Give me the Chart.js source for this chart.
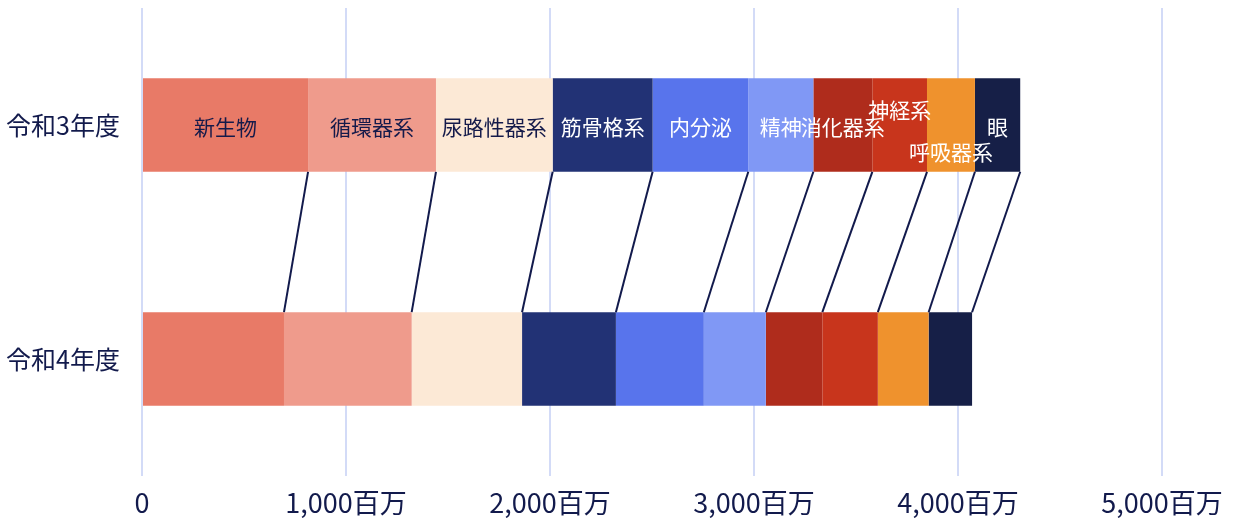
<!DOCTYPE html>
<html lang="ja">
<head>
<meta charset="utf-8">
<script src="https://cdn.jsdelivr.net/npm/chart.js@4/dist/chart.umd.min.js"></script>
<style>
  html, body { margin: 0; padding: 0; background: #ffffff; }
  #wrap { width: 1236px; height: 521px; }
</style>
</head>
<body>
<div id="wrap"><canvas id="c" width="1236" height="521"></canvas></div>
<script>
// ---- data ----
const categories = ['令和3年度', '令和4年度'];
const seriesNames = ['新生物', '循環器系', '尿路性器系', '筋骨格系', '内分泌', '精神', '消化器系', '神経系', '呼吸器系', '眼'];
const valuesR3 = [814, 627, 572, 490, 469, 319, 289, 268, 235, 222];
const valuesR4 = [696, 626, 541, 460, 431, 304, 277, 272, 249, 213];
const tickLabels = ['0', '1,000百万', '2,000百万', '3,000百万', '4,000百万', '5,000百万'];

// ---- styles ----
const colors = ['#E87A67', '#EF9B8C', '#FCE9D6', '#223275', '#5874EC', '#8098F5', '#AF2C1C', '#C8351C', '#EF922D', '#161F47'];
const labelColors = ['#141a4a', '#141a4a', '#141a4a', '#ffffff', '#ffffff', '#ffffff', '#ffffff', '#ffffff', '#ffffff', '#ffffff'];
const labelOffsets = [0, 0, 0, 0, 0, 0, 0, -17, 25, 0];
const FONT = "'Noto Sans CJK JP', 'Noto Sans', sans-serif";
const NAVY = '#121a4c';

const datasets = seriesNames.map((name, i) => ({
  label: name,
  data: [valuesR3[i], valuesR4[i]],
  backgroundColor: colors[i],
  borderWidth: 0,
  categoryPercentage: 1.0,
  barPercentage: 0.4
}));

const connectorPlugin = {
  id: 'connectors',
  afterDatasetsDraw(chart) {
    const ctx = chart.ctx;
    ctx.save();
    ctx.strokeStyle = NAVY;
    ctx.lineWidth = 2;
    chart.data.datasets.forEach((ds, i) => {
      const meta = chart.getDatasetMeta(i);
      const a = meta.data[0], b = meta.data[1];
      ctx.beginPath();
      ctx.moveTo(a.x, a.y + a.height / 2);
      ctx.lineTo(b.x, b.y - b.height / 2);
      ctx.stroke();
    });
    ctx.restore();
  }
};

const labelPlugin = {
  id: 'segLabels',
  afterDatasetsDraw(chart) {
    const ctx = chart.ctx;
    ctx.save();
    ctx.font = '21px ' + FONT;
    ctx.textAlign = 'center';
    ctx.textBaseline = 'middle';
    chart.data.datasets.forEach((ds, i) => {
      const el = chart.getDatasetMeta(i).data[0];
      const cx = (el.x + el.base) / 2;
      ctx.fillStyle = labelColors[i];
      ctx.fillText(ds.label, cx, el.y + 2 + labelOffsets[i]);
    });
    ctx.restore();
  }
};

new Chart(document.getElementById('c'), {
  type: 'bar',
  data: { labels: categories, datasets },
  options: {
    indexAxis: 'y',
    responsive: false,
    devicePixelRatio: 1,
    animation: false,
    layout: { padding: { left: 0, right: 74, top: 8, bottom: 0 } },
    plugins: { legend: { display: false }, tooltip: { enabled: false } },
    scales: {
      x: {
        stacked: true,
        min: 0, max: 5000,
        ticks: {
          stepSize: 1000,
          padding: 11,
          color: NAVY,
          font: { family: FONT, size: 27 },
          maxRotation: 0,
          callback: (v, idx) => tickLabels[idx]
        },
        grid: { color: '#d3dbf7', lineWidth: 2, drawTicks: false },
        border: { display: false },
        afterFit(scale) { scale.paddingLeft = 0; scale.paddingRight = 0; scale.paddingTop = 0; scale.paddingBottom = 0; scale.height = 45; }
      },
      y: {
        stacked: true,
        ticks: { padding: 22, color: NAVY, font: { family: FONT, size: 25 } },
        grid: { display: false, drawTicks: false },
        border: { display: false },
        afterFit(scale) { scale.width = 142; scale.paddingTop = 0; scale.paddingBottom = 0; scale.paddingLeft = 0; scale.paddingRight = 0; }
      }
    }
  },
  plugins: [connectorPlugin, labelPlugin]
});
</script>
</body>
</html>
